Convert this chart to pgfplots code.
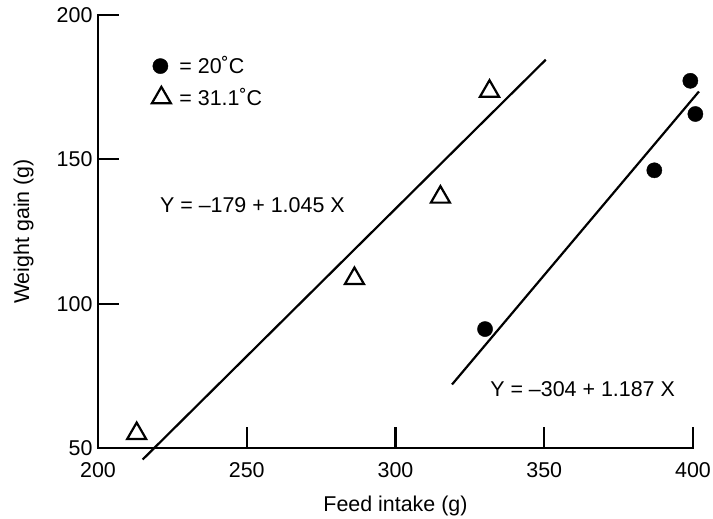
\documentclass[border=0pt]{standalone}
\usepackage{fontspec}
\setmainfont{Liberation Sans}
\usepackage{pgfplots}
\pgfplotsset{compat=1.18}
\newcommand\chartfont{\fontsize{21.5}{25}\selectfont}
\pgfplotsset{mylegimg/.style={legend image code/.code={\path (0bp,0bp) (28bp,0bp); \draw[##1] plot coordinates {(#1,0bp)};}}}
\begin{document}
\begin{tikzpicture}
\begin{axis}[
  scale only axis,
  width=595bp, height=433bp,
  xmin=200, xmax=400, ymin=50, ymax=200,
  axis x line*=bottom, axis y line*=left,
  axis line style={line width=2.3bp, -, line cap=rect},
  xtick={200,250,300,350,400}, ytick={50,100,150,200},
  tick align=inside,
  major tick length=21bp,
  tick style={line width=2.3bp, black},
  tick label style={font=\chartfont},
  xticklabel style={anchor=base, yshift=-29bp},
  yticklabel style={xshift=-2bp},
  /pgf/number format/assume math mode=true,
  xlabel={Feed intake (g)}, ylabel={Weight gain (g)},
  label style={font=\chartfont},
  xlabel style={at={(rel axis cs:0.5,0)}, anchor=base, yshift=-63bp},
  ylabel style={at={([xshift=-61bp]rel axis cs:0,0.5)}, anchor=south},
  clip=false,
  legend style={at={(axis cs:216.5,176.8)}, anchor=west, draw=none, fill=none,
    inner sep=0pt, row sep=9bp, font=\chartfont,
    cells={anchor=west}},
]
\addplot[only marks, mark=*, mark size=7.6bp, black, fill=black, mylegimg=12bp] coordinates {
  (330.1,91.2) (387.0,146.2) (399.1,177.2) (400.8,165.7)
};
\addlegendentry{= 20˚C}
\addplot[only marks, mark=triangle, mark size=11bp, black, line width=2.2bp, mylegimg=13bp] coordinates {
  (213.0,55.0) (286.2,108.7) (315.1,136.9) (331.6,173.6)
};
\addlegendentry{= 31.1˚C}
\addplot[forget plot, black, line width=2.2bp] coordinates {(215,46) (350.5,184.5)};
\addplot[forget plot, black, line width=2.2bp] coordinates {(319,72) (402,173.5)};
\node[anchor=west, inner sep=0pt, font=\chartfont] at (axis cs:220.8,134.2) {Y = –179 + 1.045 X};
\node[anchor=west, inner sep=0pt, font=\chartfont] at (axis cs:331.8,70.4) {Y = –304 + 1.187 X};
\coordinate (ll) at (rel axis cs:0,0);
\coordinate (ur) at (rel axis cs:1,1);
\end{axis}
\pgfresetboundingbox
\path[use as bounding box] ([shift={(-98bp,-71bp)}]ll) rectangle ([shift={(20bp,15bp)}]ur);
\end{tikzpicture}
\end{document}
